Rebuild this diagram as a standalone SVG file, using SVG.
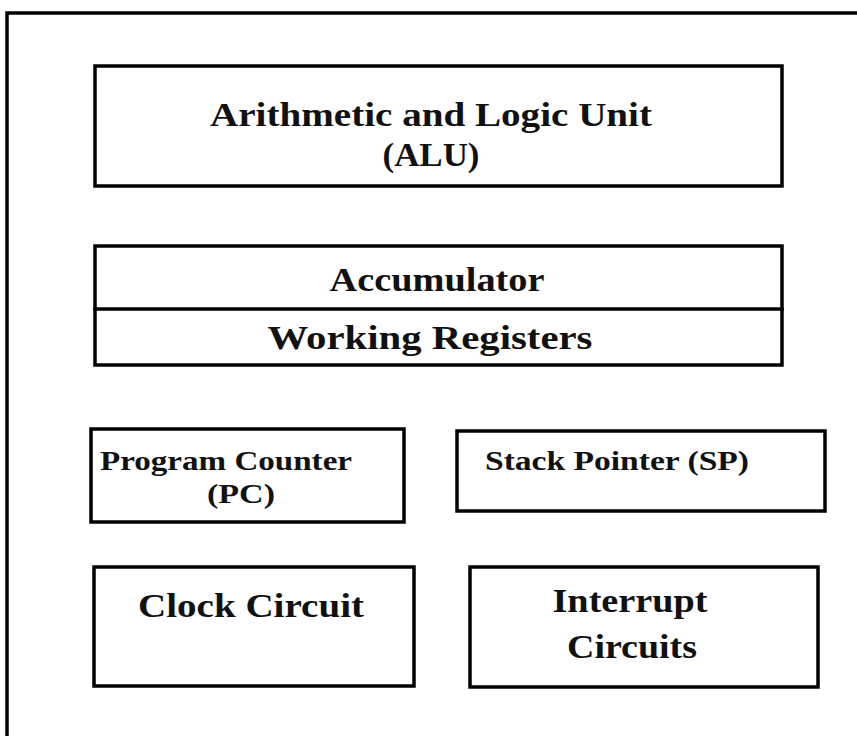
<svg xmlns="http://www.w3.org/2000/svg" width="857" height="736" viewBox="0 0 857 736">
<style>
.box{fill:none;stroke:#000;stroke-width:3.5;stroke-linecap:square}
.frame{fill:none;stroke:#000;stroke-width:3.5}
text{font-family:"Liberation Serif","Times New Roman",serif;font-weight:bold;fill:#111}
.big{font-size:34px}
.mid{font-size:28px}
</style>
<rect width="857" height="736" fill="#fff"/>
<g id="frame">
<polyline class="frame" points="7,736 7,13 857,13"/>
</g>
<g id="alu">
<rect class="box" x="95" y="66" width="687" height="120"/>
<text class="big" x="431" y="126" text-anchor="middle" textLength="442" lengthAdjust="spacingAndGlyphs">Arithmetic and Logic Unit</text>
<text class="big" x="431" y="166" text-anchor="middle" textLength="97" lengthAdjust="spacingAndGlyphs">(ALU)</text>
</g>
<g id="registers">
<rect class="box" x="95" y="246" width="687" height="119"/>
<line class="box" x1="95" y1="309" x2="782" y2="309"/>
<text class="big" x="437" y="291" text-anchor="middle" textLength="215" lengthAdjust="spacingAndGlyphs">Accumulator</text>
<text class="big" x="430" y="349" text-anchor="middle" textLength="325" lengthAdjust="spacingAndGlyphs">Working Registers</text>
</g>
<g id="pc">
<rect class="box" x="91" y="429" width="313" height="93"/>
<text class="mid" x="100" y="470" textLength="252" lengthAdjust="spacingAndGlyphs">Program Counter</text>
<text class="mid" x="241" y="503" text-anchor="middle" textLength="68" lengthAdjust="spacingAndGlyphs">(PC)</text>
</g>
<g id="sp">
<rect class="box" x="457" y="431" width="368" height="80"/>
<text class="mid" x="485" y="470" textLength="264" lengthAdjust="spacingAndGlyphs">Stack Pointer (SP)</text>
</g>
<g id="clock">
<rect class="box" x="94" y="567" width="320" height="119"/>
<text class="big" x="251" y="617" text-anchor="middle" textLength="226" lengthAdjust="spacingAndGlyphs">Clock Circuit</text>
</g>
<g id="interrupt">
<rect class="box" x="470" y="567" width="348" height="120"/>
<text class="big" x="630" y="612" text-anchor="middle" textLength="155" lengthAdjust="spacingAndGlyphs">Interrupt</text>
<text class="big" x="632" y="658" text-anchor="middle" textLength="130" lengthAdjust="spacingAndGlyphs">Circuits</text>
</g>
<g id="connectors"></g>
</svg>
